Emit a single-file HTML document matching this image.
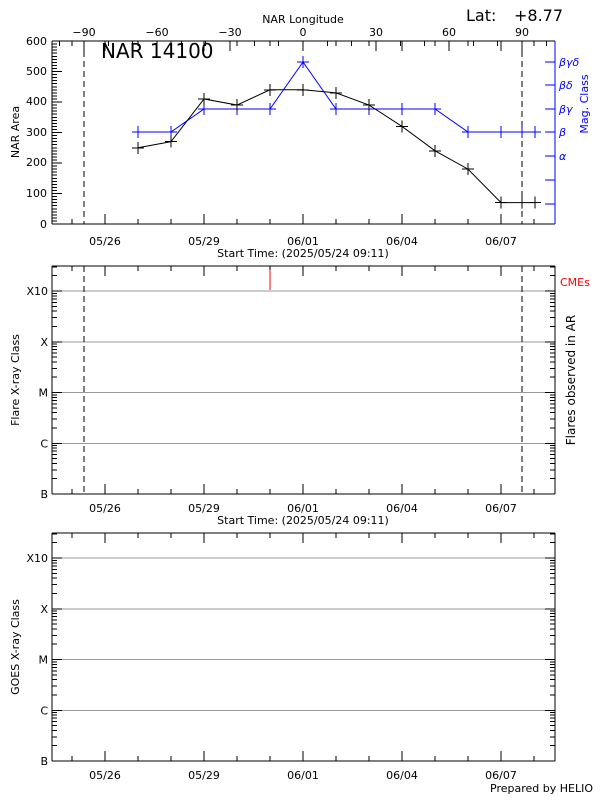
<!DOCTYPE html><html><head><style>body{margin:0;background:#fff}svg{display:block;font-family:"DejaVu Sans","Liberation Sans",sans-serif}</style></head><body>
<svg id="s" width="600" height="800" xmlns="http://www.w3.org/2000/svg">
<rect width="600" height="800" fill="#fff"/>
<g id="g"></g>
<text x="303" y="23" font-size="11" text-anchor="middle">NAR Longitude</text>
<text x="466" y="21" font-size="16">Lat:</text>
<text x="514" y="21" font-size="16">+8.77</text>
<text x="101" y="58" font-size="20">NAR 14100</text>
<text x="19" y="132" font-size="11" text-anchor="middle" transform="rotate(-90 19 132)">NAR Area</text>
<text x="588" y="104" font-size="11" text-anchor="middle" fill="#00f" transform="rotate(-90 588 104)">Mag. Class</text>
<g font-size="11" fill="#00f" font-style="italic"><text x="559" y="66">βγδ</text><text x="559" y="89">βδ</text><text x="559" y="113">βγ</text><text x="559" y="136">β</text><text x="559" y="160">α</text></g>
<g font-size="11" text-anchor="end"><text x="47" y="45">600</text><text x="47" y="75">500</text><text x="47" y="105">400</text><text x="47" y="136">300</text><text x="47" y="166">200</text><text x="47" y="197">100</text><text x="47" y="228">0</text></g>
<g font-size="11" text-anchor="middle"><text x="303" y="257">Start Time: (2025/05/24 09:11)</text><text x="303" y="524">Start Time: (2025/05/24 09:11)</text></g>
<text x="19" y="380" font-size="11" text-anchor="middle" transform="rotate(-90 19 380)">Flare X-ray Class</text>
<text x="575" y="380" font-size="12" text-anchor="middle" transform="rotate(-90 575 380)">Flares observed in AR</text>
<text x="560" y="286" font-size="11" fill="#f00">CMEs</text>
<text x="19" y="647" font-size="11" text-anchor="middle" transform="rotate(-90 19 647)">GOES X-ray Class</text>
<text x="593" y="792" font-size="11" text-anchor="end">Prepared by HELIO</text>
</svg>
<script>
var g=document.getElementById('g'),h='';
function L(x1,y1,x2,y2,c,w,d){h+='<line x1="'+x1+'" y1="'+y1+'" x2="'+x2+'" y2="'+y2+'" stroke="'+(c||'#000')+'" stroke-width="'+(w||1)+'"'+(d?' stroke-dasharray="'+d+'"':'')+' shape-rendering="crispEdges"/>';}
function T(x,y,s,a,c){h+='<text x="'+x+'" y="'+y+'" font-size="11" text-anchor="'+(a||'middle')+'" fill="'+(c||'#000')+'">'+s+'</text>';}
var X0=52,X1=555;
function dayAxis(top,bot,ly){
 for(var i=0;i<15;i++){var x=72+33*i;if(x>X1)break;var maj=(i-1)%3==0;L(x,bot,x,bot-(maj?10:5));L(x,top,x,top+(maj?10:5));}
 var lab=['05/26','05/29','06/01','06/04','06/07'];for(var k=0;k<5;k++)T(105+99*k,ly,lab[k]);
}
var t=41,b=224;
L(X0,t,X1,t);L(X0,b,X1,b);L(X0,t,X0,b);L(X1,t,X1,b,'#00f');
dayAxis(t,b,245);
for(var v=0;v<=600;v+=10){var y=b-v*(b-t)/600;L(X0,y,X0+(v%100==0?10:5),y);}
[62,85,109,132,156,180,204].forEach(function(y){L(X1,y,X1-10,y,'#00f');});
for(var d=-110;d<=110;d+=10){var x=303+d*438/180;if(x>X1||x<X0)continue;L(x,t,x,t+(d%30==0?10:5));if(d%30==0&&Math.abs(d)<=90)T(x,36,(d<0?'−':'')+Math.abs(d));}
L(84,t,84,b,'#000',1,'6,4');L(522,t,522,b,'#000',1,'6,4');
var xs=[138,171,204,237,270,303,336,369,402,435,468,501,535];
var bv=[250,270,410,390,440,440,430,390,320,240,180,70,70];
var by=bv.map(function(v){return b-v*(b-t)/600;});
var bl=[132,132,109,109,109,62,109,109,109,109,132,132,132];
function poly(ys,c){var p=xs.map(function(x,i){return x+','+ys[i]}).join(' ');h+='<polyline points="'+p+'" fill="none" stroke="'+c+'" stroke-width="1"/>';xs.forEach(function(x,i){L(x-6,ys[i],x+6,ys[i],c);L(x,ys[i]-6,x,ys[i]+6,c);});}
poly(bl,'#00f');poly(by,'#000');
L(522,132-6,522,132+6,'#00f');L(522,by[12]-6,522,by[12]+6);
function logPanel(t,b,ly){
 L(X0,t,X1,t);L(X0,b,X1,b);L(X0,t,X0,b);L(X1,t,X1,b);
 dayAxis(t,b,ly);
 var dec=(b-t-25)/4;var labs=['B','C','M','X','X10'];
 for(var k=0;k<5;k++){var y=b-k*dec;T(X0-4,y+4,labs[k],'end');
  if(k>0){L(X0,y,X1,y,'#999');L(X0,y,X0+10,y);L(X1,y,X1-10,y);}
  for(var m=2;m<10;m++){var yy=y-Math.log10(m)*dec;if(yy<t)break;L(X0,yy,X0+5,yy);L(X1,yy,X1-5,yy);}}
}
logPanel(266,494,512);logPanel(533,761,779);
L(84,266,84,494,'#000',1,'6,4');L(522,266,522,494,'#000',1,'6,4');
L(270,270,270,290,'#f00');
g.innerHTML=h;
</script>
</body></html>
